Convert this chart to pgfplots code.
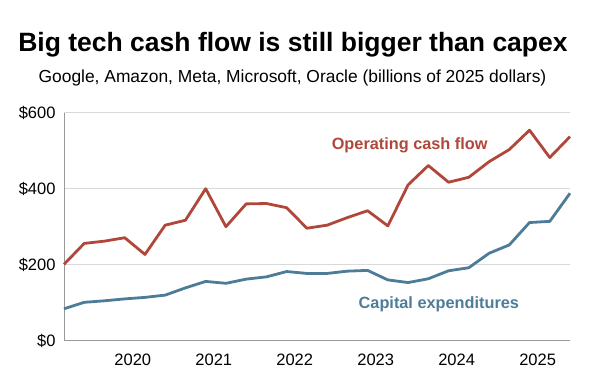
\documentclass[border=0pt]{standalone}
\usepackage{pgfplots}
\pgfplotsset{compat=1.18}
\usepackage{fontspec}
\setmainfont{Liberation Sans}
\definecolor{ocf}{HTML}{B0473A}
\definecolor{capx}{HTML}{4D7C98}
\pgfplotstableread{
x y
2019.15 201
2019.40 256
2019.65 262
2019.90 271
2020.15 227
2020.40 304
2020.65 317
2020.90 400
2021.15 300
2021.40 360
2021.65 361
2021.90 350
2022.15 296
2022.40 304
2022.65 324
2022.90 342
2023.15 302
2023.40 410
2023.65 461
2023.90 417
2024.15 430
2024.40 471
2024.65 503
2024.90 554
2025.15 482
2025.40 537
}\ocftab
\pgfplotstableread{
x y
2019.15 84
2019.40 101
2019.65 105
2019.90 110
2020.15 114
2020.40 120
2020.65 139
2020.90 156
2021.15 151
2021.40 162
2021.65 168
2021.90 182
2022.15 177
2022.40 177
2022.65 183
2022.90 185
2023.15 160
2023.40 153
2023.65 163
2023.90 184
2024.15 192
2024.40 230
2024.65 252
2024.90 311
2025.15 314
2025.40 388
}\capxtab
\begin{document}
\begin{tikzpicture}[x=1pt,y=1pt]
\useasboundingbox (-64,-44.3) rectangle (536,340.7);
\begin{axis}[
  at={(0,0)}, anchor=south west,
  scale only axis, width=506pt, height=228pt,
  xmin=2019.15, xmax=2025.4, ymin=0, ymax=600,
  axis x line*=bottom, axis y line*=left,
  axis line style={color=gray!80, line width=0.8pt},
  xtick={2020,2021,2022,2023,2024,2025},
  xticklabels={2020,2021,2022,2023,2024,2025},
  ytick={0,200,400,600},
  yticklabels={\$0,\$200,\$400,\$600},
  ymajorgrids, grid style={color=gray!30, line width=0.8pt},
  major tick length=0pt,
  tick label style={font=\fontsize{16.5}{18}\selectfont},
  /pgf/number format/assume math mode=true,
  xticklabel style={yshift=-10pt},
  yticklabel style={xshift=-5pt},
  clip=false,
]
\addplot[ocf, line width=2.8pt, line join=round] table[x=x,y=y] {\ocftab};
\addplot[capx, line width=2.8pt, line join=round] table[x=x,y=y] {\capxtab};
\node[ocf, font=\bfseries\fontsize{16.3}{18}\selectfont] at (axis cs:2023.42,513) {Operating cash flow};
\node[capx, font=\bfseries\fontsize{16.3}{18}\selectfont] at (axis cs:2023.78,97) {Capital expenditures};
\end{axis}
\node[font=\bfseries\fontsize{26.5}{30}\selectfont, anchor=base] at (229,289) {Big tech cash flow is still bigger than capex};
\node[font=\fontsize{17.4}{20}\selectfont, anchor=base] at (228.5,258.4) {Google, Amazon, Meta, Microsoft, Oracle (billions of 2025 dollars)};
\end{tikzpicture}
\end{document}
